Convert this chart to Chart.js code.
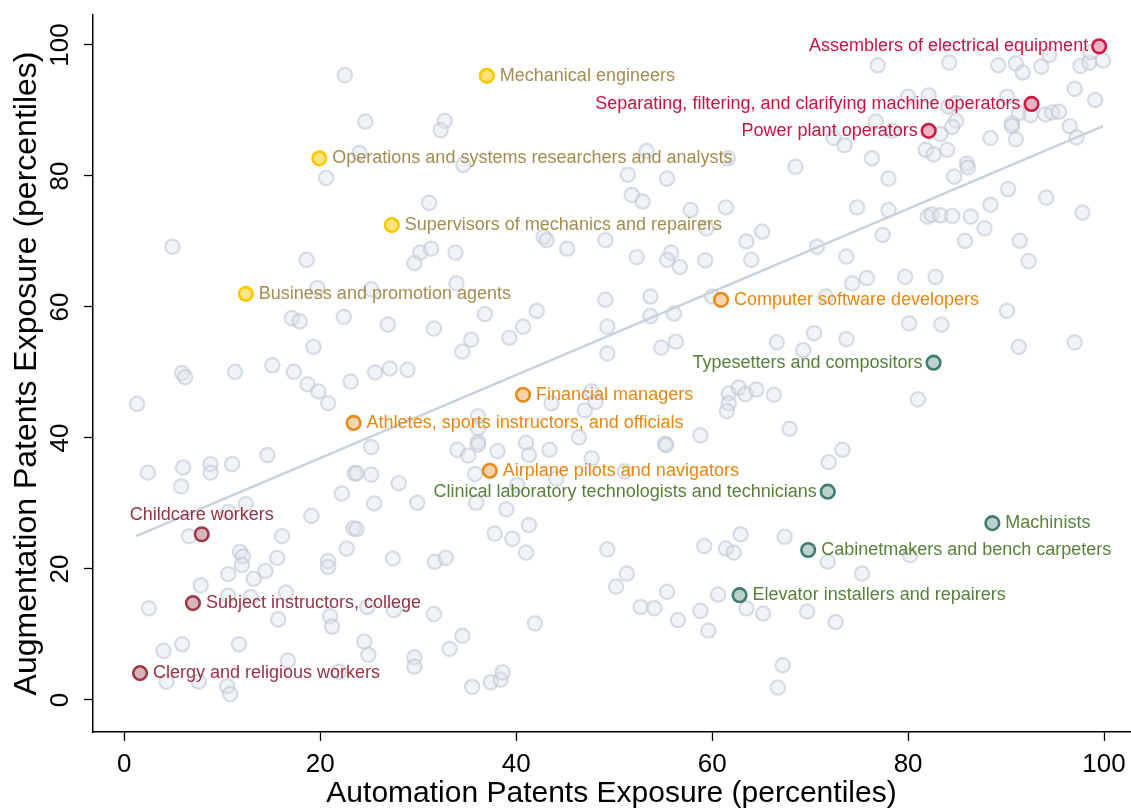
<!DOCTYPE html>
<html>
<head>
<meta charset="utf-8">
<style>
  html, body { margin: 0; padding: 0; background: #fff; }
  #wrap { width: 1131px; height: 809px; position: relative; }
</style>
<script src="https://cdn.jsdelivr.net/npm/chart.js@4.4.1/dist/chart.umd.min.js"></script>
</head>
<body>
<div id="wrap"><canvas id="chart" width="1131" height="809"></canvas></div>
<script>
// Axis ticks (percentiles)
const xTickValues = [0, 20, 40, 60, 80, 100];
const yTickValues = [0, 20, 40, 60, 80, 100];

// Occupations without a label: [automation exposure, augmentation exposure]
const otherOccupations = [
  [22.5,95.4],[20.6,79.7],[4.9,69.2],[18.6,67.2],[19.7,62.9],[17.1,58.3],[17.9,57.8],[22.4,58.5],[19.3,53.9],
  [24.6,88.3],[32.7,88.4],[32.3,87.0],[24.0,83.5],[34.6,81.7],[31.1,75.9],[42.8,70.7],[43.1,70.2],[45.2,68.9],
  [30.2,68.3],[31.3,68.9],[33.8,68.3],[29.6,66.7],[49.1,70.2],[33.9,63.6],[25.2,62.7],[49.1,61.1],[36.8,58.9],
  [42.1,59.4],[26.9,57.3],[31.6,56.7],[40.7,57.0],[39.3,55.3],[35.4,55.0],[34.5,53.2],[49.3,57.0],[49.3,52.9],
  [53.3,83.8],[61.6,82.7],[72.4,85.8],[73.5,84.7],[68.5,81.4],[51.4,80.2],[55.4,79.6],[51.8,77.1],[52.9,76.1],
  [57.8,74.8],[61.4,75.2],[74.8,75.2],[59.4,72.0],[63.5,70.0],[65.1,71.5],[70.7,69.2],[73.7,67.7],[52.3,67.6],
  [55.8,68.3],[55.4,67.2],[56.7,66.1],[59.3,67.1],[64.0,67.2],[74.3,63.6],[53.7,61.6],[71.6,61.6],[53.7,58.6],
  [56.1,59.0],[60.0,61.6],[54.8,53.8],[56.3,54.7],[66.6,54.6],[70.4,56.0],[73.7,55.1],[69.3,53.4],
  [76.9,96.9],[84.2,97.3],[89.2,96.9],[91.0,97.2],[91.7,95.8],[93.6,96.7],[94.4,98.5],[97.6,96.8],[98.5,97.3],
  [99.9,97.6],[98.6,98.9],[80.0,92.1],[82.1,92.3],[90.1,92.1],[97.0,93.3],[99.1,91.6],[84.1,90.6],[84.9,91.1],
  [91.3,89.6],[92.5,89.3],[94.0,89.4],[94.7,89.7],[95.4,89.8],[76.7,88.3],[78.4,86.9],[84.9,88.4],[84.5,87.5],
  [90.6,88.0],[90.6,87.6],[96.5,87.6],[97.2,85.9],[83.3,86.4],[88.4,85.8],[91.0,85.6],[81.8,84.0],[82.6,83.3],
  [84.0,84.0],[76.3,82.7],[86.0,81.9],[86.1,81.3],[78.0,79.6],[84.7,79.9],[90.2,78.0],[94.1,76.7],[78.0,74.8],
  [88.4,75.6],[82.0,73.8],[82.4,74.1],[83.3,74.0],[84.5,73.9],[86.4,73.8],[87.8,72.0],[97.8,74.4],[77.4,71.0],
  [85.8,70.1],[91.4,70.1],[92.3,67.0],[75.8,64.4],[79.7,64.6],[82.8,64.6],[90.1,59.4],[80.1,57.5],[83.4,57.3],
  [91.3,53.9],[97.0,54.6],
  [5.9,49.9],[6.2,49.3],[11.3,50.1],[15.1,51.1],[17.3,50.1],[18.7,48.2],[19.8,47.1],[20.8,45.3],[1.3,45.2],
  [23.1,48.6],[14.6,37.4],[2.4,34.7],[6.0,35.5],[5.8,32.6],[8.8,36.0],[8.8,34.7],[11.0,36.0],[22.2,31.5],
  [23.5,34.6],[12.4,29.9],[10.6,28.7],[19.1,28.1],[6.6,25.0],[16.1,25.0],[23.4,26.2],[11.8,22.6],[12.1,21.9],
  [12.0,20.6],[15.6,21.7],[22.7,23.1],[20.8,21.2],[20.8,20.3],[10.6,19.2],[13.2,18.5],[14.4,19.7],[7.8,17.5],
  [10.6,15.9],[12.9,15.7],[16.5,16.4],[2.5,14.0],[15.7,12.3],[21.0,12.8],[21.2,11.2],[4.0,7.5],[5.9,8.5],
  [11.7,8.5],[16.7,6.0],[4.3,2.8],[7.6,2.8],[10.5,2.1],[10.8,0.9],[21.9,4.3],
  [25.6,50.0],[27.1,50.6],[28.9,50.4],[43.6,45.3],[47.0,44.2],[47.7,47.1],[48.1,45.5],[36.1,43.3],[36.1,41.5],
  [36.1,39.4],[36.1,39.0],[25.2,38.6],[34.0,38.2],[35.1,37.3],[38.1,38.0],[41.0,39.3],[41.3,37.4],[43.4,38.2],
  [46.4,40.1],[47.7,36.9],[23.7,34.6],[25.2,34.4],[28.0,33.1],[35.8,34.5],[40.1,32.8],[44.1,33.8],[25.5,30.0],
  [29.9,30.1],[35.9,30.1],[39.0,29.1],[23.7,26.1],[37.8,25.4],[39.6,24.6],[41.3,26.7],[41.0,22.5],[27.4,21.6],
  [31.7,21.1],[32.8,21.7],[49.3,23.0],[24.8,14.2],[27.5,13.7],[31.6,13.1],[41.9,11.7],[24.5,8.9],[24.9,6.9],
  [29.6,6.5],[29.6,5.1],[33.2,7.8],[34.5,9.8],[35.5,2.0],[37.4,2.7],[38.4,3.1],[38.6,4.2],
  [61.7,46.8],[62.7,47.7],[63.4,46.7],[64.5,47.4],[66.3,46.6],[61.7,45.3],[61.5,44.1],[67.9,41.4],[55.2,39.1],
  [55.3,38.9],[58.8,40.4],[73.3,38.2],[71.9,36.3],[51.1,34.9],[59.2,23.5],[61.4,23.1],[62.2,22.5],[62.9,25.3],
  [67.4,24.9],[71.8,21.1],[51.3,19.3],[50.2,17.3],[55.4,16.5],[60.6,16.1],[52.7,14.2],[54.1,14.0],[56.5,12.2],
  [58.8,13.6],[59.6,10.6],[63.5,14.0],[65.2,13.2],[69.7,13.5],[72.6,11.9],[67.2,5.3],[66.7,1.9],[75.3,19.3],
  [81.0,45.9],[80.2,22.1]
];

// Linear fit across all occupations (endpoints of the fitted line)
const fitX = [1.2, 99.9];
const fitY = [25.0, 87.6];

// Labelled occupations, one group per colour
const highAutoHighAugNames = ["Assemblers of electrical equipment", "Separating, filtering, and clarifying machine operators", "Power plant operators"];
const highAutoHighAugX = [99.5, 92.6, 82.1];
const highAutoHighAugY = [99.8, 91.0, 86.9];

const lowAutoHighAugNames = ["Mechanical engineers", "Operations and systems researchers and analysts", "Supervisors of mechanics and repairers", "Business and promotion agents"];
const lowAutoHighAugX = [37.0, 19.9, 27.3, 12.4];
const lowAutoHighAugY = [95.3, 82.7, 72.5, 62.0];

const midNames = ["Computer software developers", "Financial managers", "Athletes, sports instructors, and officials", "Airplane pilots and navigators"];
const midX = [60.9, 40.7, 23.4, 37.3];
const midY = [61.1, 46.6, 42.3, 35.0];

const highAutoLowAugNames = ["Typesetters and compositors", "Clinical laboratory technologists and technicians", "Machinists", "Cabinetmakers and bench carpeters", "Elevator installers and repairers"];
const highAutoLowAugX = [82.6, 71.8, 88.6, 69.8, 62.8];
const highAutoLowAugY = [51.5, 31.8, 27.0, 22.9, 16.0];

const lowAutoLowAugNames = ["Childcare workers", "Subject instructors, college", "Clergy and religious workers"];
const lowAutoLowAugX = [7.9, 7.0, 1.6];
const lowAutoLowAugY = [25.3, 14.8, 4.1];

// Where each label sits relative to its marker
const labelSide = {
  "Assemblers of electrical equipment": "left",
  "Separating, filtering, and clarifying machine operators": "left",
  "Power plant operators": "left",
  "Typesetters and compositors": "left",
  "Clinical laboratory technologists and technicians": "left",
  "Childcare workers": "above"
};

const FONT = "'Liberation Sans', Arial, Helvetica, sans-serif";

const groups = [
  { names: highAutoHighAugNames, xs: highAutoHighAugX, ys: highAutoHighAugY, fill: '#eab4c2', stroke: '#cc1b45', text: '#c9123f' },
  { names: lowAutoHighAugNames,  xs: lowAutoHighAugX,  ys: lowAutoHighAugY,  fill: '#ffe47c', stroke: '#f9c800', text: '#a28c52' },
  { names: midNames,             xs: midX,             ys: midY,             fill: '#f7d4ac', stroke: '#e98a1e', text: '#e8860f' },
  { names: highAutoLowAugNames,  xs: highAutoLowAugX,  ys: highAutoLowAugY,  fill: '#bdd1cd', stroke: '#3f7d71', text: '#5a7f3b' },
  { names: lowAutoLowAugNames,   xs: lowAutoLowAugX,   ys: lowAutoLowAugY,   fill: '#d8b5ba', stroke: '#9a3a48', text: '#963443' }
];

const datasets = [];
groups.forEach((g, i) => {
  datasets.push({
    label: 'group' + i,
    data: g.xs.map((x, k) => ({ x: x, y: g.ys[k], name: g.names[k] })),
    backgroundColor: g.fill,
    borderColor: g.stroke,
    borderWidth: 2.6,
    pointRadius: 6.8,
    order: 0,
    textColor: g.text
  });
});
datasets.push({
  label: 'fit',
  data: fitX.map((x, k) => ({ x: x, y: fitY[k] })),
  showLine: true,
  borderColor: '#c8d2dd',
  borderWidth: 2.4,
  pointRadius: 0,
  order: 1
});
datasets.push({
  label: 'others',
  data: otherOccupations.map(p => ({ x: p[0], y: p[1] })),
  backgroundColor: 'rgba(222,227,234,0.42)',
  borderColor: 'rgba(186,197,210,0.55)',
  borderWidth: 2.2,
  pointRadius: 7.2,
  order: 2
});

// Occupation names beside their markers
const occupationLabels = {
  id: 'occupationLabels',
  afterDatasetsDraw(chart) {
    const ctx = chart.ctx;
    ctx.save();
    ctx.font = '18px ' + FONT;
    chart.data.datasets.forEach((ds, di) => {
      if (!ds.textColor) return;
      const meta = chart.getDatasetMeta(di);
      meta.data.forEach((pt, k) => {
        const name = ds.data[k].name;
        const side = labelSide[name] || 'right';
        ctx.fillStyle = ds.textColor;
        if (side === 'left') {
          ctx.textAlign = 'right'; ctx.textBaseline = 'middle';
          ctx.fillText(name, pt.x - 11, pt.y);
        } else if (side === 'above') {
          ctx.textAlign = 'center'; ctx.textBaseline = 'middle';
          ctx.fillText(name, pt.x, pt.y - 19);
        } else {
          ctx.textAlign = 'left'; ctx.textBaseline = 'middle';
          ctx.fillText(name, pt.x + 13, pt.y);
        }
      });
    });
    ctx.restore();
  }
};

new Chart(document.getElementById('chart'), {
  type: 'scatter',
  data: { datasets: datasets },
  plugins: [occupationLabels],
  options: {
    responsive: false,
    animation: false,
    events: [],
    // fixed frame: the plot area runs to the right edge of the figure
    layout: { autoPadding: false, padding: { left: 0, right: 1, top: 15, bottom: 0 } },
    plugins: { legend: { display: false }, tooltip: { enabled: false } },
    scales: {
      x: {
        type: 'linear',
        min: -3.2,
        max: 102.65,
        afterBuildTicks: s => { s.ticks = xTickValues.map(v => ({ value: v })); },
        afterFit: s => { s.height = 77; s.paddingLeft = 0; s.paddingRight = 0; },
        grid: { display: true, drawOnChartArea: false, drawTicks: true, tickLength: 9, tickColor: '#000', tickWidth: 1.3 },
        border: { display: true, color: '#000', width: 1.5 },
        // the tall line height drops the labels below the tick marks
        ticks: { color: '#000', font: { family: FONT, size: 26, lineHeight: 1.8 }, padding: 0, maxRotation: 0, minRotation: 0 },
        title: { display: true, text: 'Automation Patents Exposure (percentiles)', color: '#000', font: { family: FONT, size: 30, lineHeight: 1.05 }, padding: { top: 0, bottom: 0 } }
      },
      y: {
        type: 'linear',
        min: -4.89,
        max: 104.58,
        afterBuildTicks: s => { s.ticks = yTickValues.map(v => ({ value: v })); },
        afterFit: s => { s.width = 93; s.paddingTop = 0; s.paddingBottom = 0; },
        grid: { display: true, drawOnChartArea: false, drawTicks: true, tickLength: 9, tickColor: '#000', tickWidth: 1.3 },
        border: { display: true, color: '#000', width: 1.5 },
        ticks: { color: '#000', font: { family: FONT, size: 26 }, padding: 1, minRotation: 90, maxRotation: 90, crossAlign: 'center' },
        title: { display: true, text: 'Augmentation Patents Exposure (percentiles)', color: '#000', font: { family: FONT, size: 32, lineHeight: 1.1 }, padding: { top: 10, bottom: 0 } }
      }
    }
  }
});
</script>
</body>
</html>
